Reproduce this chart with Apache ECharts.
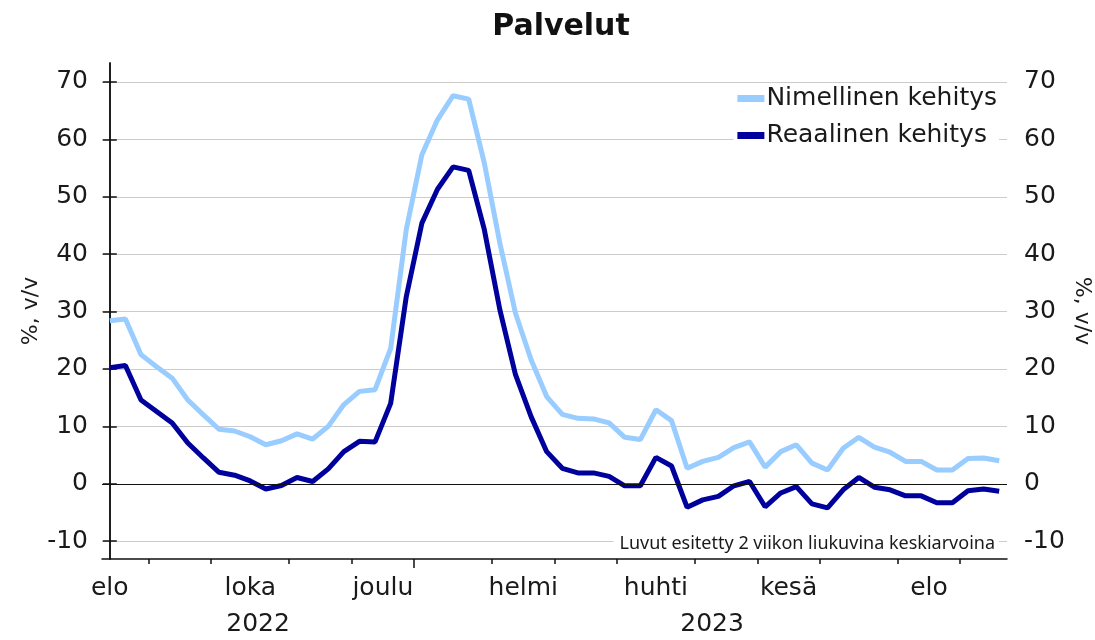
<!DOCTYPE html>
<html>
<head>
<meta charset="utf-8">
<script src="https://cdn.jsdelivr.net/npm/echarts@6/dist/echarts.min.js"></script>
<style>
html,body{margin:0;padding:0;background:#fff;}
#chartdiv{width:1095px;height:640px;}
</style>
</head>
<body>
<div id="chartdiv"></div>
<script>
//viikot elo 2022 - syys 2023 (indeksi 0..57)
var nimellinen = [28.4, 28.7, 22.5, 20.4, 18.4, 14.6, 12.0, 9.5, 9.2, 8.2,
	6.8, 7.5, 8.7, 7.8, 10.0, 13.8, 16.1, 16.4, 23.6, 44.3,
	57.3, 63.4, 67.6, 67.0, 55.9, 41.9, 29.7, 21.6, 15.2, 12.1,
	11.4, 11.3, 10.6, 8.1, 7.7, 12.9, 11.0, 2.7, 3.9, 4.6,
	6.3, 7.3, 2.9, 5.6, 6.8, 3.6, 2.4, 6.2, 8.1, 6.4,
	5.5, 3.9, 3.9, 2.4, 2.4, 4.4, 4.5, 4.0];
var reaalinen = [20.2, 20.6, 14.6, 12.6, 10.6, 7.1, 4.5, 2.0, 1.5, 0.5,
	-0.9, -0.3, 1.1, 0.4, 2.6, 5.6, 7.4, 7.3, 14.0, 32.6,
	45.4, 51.3, 55.2, 54.6, 44.3, 30.3, 19.0, 11.7, 5.6, 2.7,
	1.9, 1.9, 1.3, -0.35, -0.35, 4.6, 3.1, -4.1, -2.8, -2.2,
	-0.35, 0.4, -4.0, -1.6, -0.5, -3.5, -4.2, -1.05, 1.1, -0.6,
	-1.05, -2.1, -2.1, -3.3, -3.3, -1.2, -0.9, -1.3];

//kuukausien rajat ja nimet
var kkRajat = [2.5, 6.5, 11.5, 15.5, 24.5, 28.5, 32.5, 37.5, 41.5, 45.5, 50.5, 54.5];
var vuodenVaihde = [19.5];
var kkPaikat = [0, 9, 17.5, 26.5, 35, 43.5, 52.5];
var kkNimet = ['elo', 'loka', 'joulu', 'helmi', 'huhti', 'kesä', 'elo'];
var vuosiPaikat = [9.5, 38.6];
var vuosiNimet = ['2022', '2023'];
var yTicks = [-10, 0, 10, 20, 30, 40, 50, 60, 70];

var fontti = 'DejaVu Sans';
var tekstiVari = '#1a1a1a';

function toPairs(arr) {
	var res = [];
	for (var i = 0; i < arr.length; i++) {
		res.push([i, arr[i]]);
	}
	return res;
}

function labelFor(paikat, nimet) {
	return function(value) {
		for (var i = 0; i < paikat.length; i++) {
			if (Math.abs(paikat[i] - value) < 0.01) return nimet[i];
		}
		return '';
	};
}

var yAxisBase = function(pos) {
	return {
		type: 'value',
		position: pos,
		min: -13.1,
		max: 73.3,
		name: '%, v/v',
		nameLocation: 'middle',
		nameRotate: pos == 'left' ? 90 : -90,
		nameGap: pos == 'left' ? 60 : 64,
		nameMoveOverlap: false,
		nameTextStyle: {
			fontFamily: fontti,
			fontSize: 22,
			color: tekstiVari
		},
		axisLine: {
			show: true,
			lineStyle: { color: '#111', width: 1.5 }
		},
		axisTick: {
			show: true,
			length: 7,
			customValues: yTicks,
			lineStyle: { color: '#111', width: 1.5 }
		},
		axisLabel: {
			customValues: yTicks,
			margin: pos == 'left' ? 14 : 17,
			fontFamily: fontti,
			fontSize: 25,
			color: tekstiVari
		},
		splitLine: {
			show: pos == 'left',
			lineStyle: { color: '#cccccc', width: 1.2 }
		}
	};
};

var option = {
	animation: false,
	title: [{
		text: 'Palvelut',
		left: 556,
		top: 7,
		textAlign: 'center',
		textStyle: {
			fontFamily: fontti,
			fontSize: 30,
			fontWeight: 'bold',
			color: '#111'
		}
	}, {
		text: 'Luvut esitetty 2 viikon liukuvina keskiarvoina',
		right: 96,
		top: 533,
		backgroundColor: '#fff',
		padding: [2, 4, 2, 6],
		textStyle: {
			fontFamily: 'Noto Sans',
			fontSize: 18,
			fontWeight: 'normal',
			color: tekstiVari
		}
	}],
	legend: {
		orient: 'vertical',
		right: 96,
		top: 84,
		icon: 'rect',
		itemWidth: 27,
		itemHeight: 7,
		itemGap: 12,
		backgroundColor: '#fff',
		padding: [2, 2, 2, 4],
		textStyle: {
			fontFamily: fontti,
			fontSize: 25,
			color: tekstiVari,
			padding: [0, 0, 0, -3]
		},
		data: ['Nimellinen kehitys', 'Reaalinen kehitys']
	},
	grid: {
		left: 102,
		right: 88,
		top: 63,
		bottom: 81,
		containLabel: false,
		outerBoundsMode: 'none'
	},
	xAxis: [{
		type: 'value',
		min: -0.5,
		max: 57.5,
		position: 'bottom',
		axisLine: {
			show: true,
			onZero: false,
			lineStyle: { color: '#111', width: 1.5 }
		},
		axisTick: {
			show: true,
			length: 5,
			customValues: kkRajat,
			lineStyle: { color: '#111', width: 1.5 }
		},
		axisLabel: {
			customValues: kkPaikat,
			formatter: labelFor(kkPaikat, kkNimet),
			margin: 17,
			fontFamily: fontti,
			fontSize: 25,
			color: tekstiVari
		},
		splitLine: { show: false }
	}, {
		type: 'value',
		min: -0.5,
		max: 57.5,
		position: 'bottom',
		axisLine: { show: false, onZero: false },
		axisTick: {
			show: true,
			length: 9,
			customValues: vuodenVaihde,
			lineStyle: { color: '#111', width: 1.5 }
		},
		axisLabel: {
			customValues: vuosiPaikat,
			formatter: labelFor(vuosiPaikat, vuosiNimet),
			margin: 53,
			fontFamily: fontti,
			fontSize: 25,
			color: tekstiVari
		},
		splitLine: { show: false }
	}],
	yAxis: [yAxisBase('left'), yAxisBase('right')],
	series: [{
		name: 'Nimellinen kehitys',
		type: 'line',
		xAxisIndex: 0,
		yAxisIndex: 0,
		symbol: 'none',
		lineStyle: { color: '#99ccff', width: 5 },
		itemStyle: { color: '#99ccff' },
		data: toPairs(nimellinen),
		markLine: {
			silent: true,
			symbol: 'none',
			label: { show: false },
			lineStyle: { color: '#111', width: 1.2, type: 'solid' },
			data: [{ yAxis: 0 }]
		}
	}, {
		name: 'Reaalinen kehitys',
		type: 'line',
		xAxisIndex: 0,
		yAxisIndex: 0,
		symbol: 'none',
		lineStyle: { color: '#00009c', width: 5 },
		itemStyle: { color: '#00009c' },
		data: toPairs(reaalinen)
	}]
};

var chart = echarts.init(document.getElementById('chartdiv'));
chart.setOption(option);
</script>
</body>
</html>
